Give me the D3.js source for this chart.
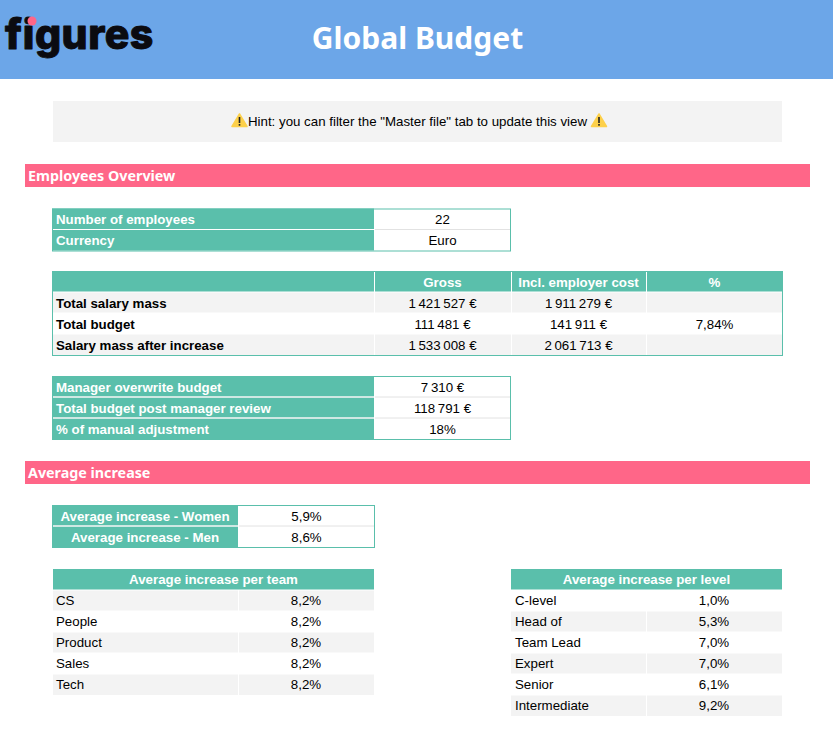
<!DOCTYPE html>
<html>
<head>
<meta charset="utf-8">
<script src="https://cdn.jsdelivr.net/npm/d3@7"></script>
<style>
    html, body { margin: 0; padding: 0; background: #fff; overflow: hidden; }
    svg { display: block; }
    text { font-family: "Liberation Sans", Arial, sans-serif; font-size: 13.3px; fill: #000; }
    .head { font-weight: bold; fill: #fff; }
    .bold { font-weight: bold; }
    .section { font-family: "Noto Sans", sans-serif; font-weight: 700; font-size: 14.3px; fill: #fff; }
</style>
</head>
<body>
<svg id="chart" width="833" height="755"></svg>
<script>
var pageTitle = "Global Budget";
var hintText = "Hint: you can filter the \"Master file\" tab to update this view";
var sectionTitles = ["Employees Overview", "Average increase"];

var overviewLabels = ["Number of employees", "Currency"];
var overviewValues = ["22", "Euro"];

var budgetColumns = ["", "Gross", "Incl. employer cost", "%"];
var budgetLabels = ["Total salary mass", "Total budget", "Salary mass after increase"];
var budgetGross = ["1\u2009421\u2009527 €", "111\u2009481 €", "1\u2009533\u2009008 €"];
var budgetEmployer = ["1\u2009911\u2009279 €", "141\u2009911 €", "2\u2009061\u2009713 €"];
var budgetPercent = ["", "7,84%", ""];

var managerLabels = ["Manager overwrite budget", "Total budget post manager review", "% of manual adjustment"];
var managerValues = ["7\u2009310 €", "118\u2009791 €", "18%"];

var genderLabels = ["Average increase - Women", "Average increase - Men"];
var genderValues = ["5,9%", "8,6%"];

var teamLabels = ["CS", "People", "Product", "Sales", "Tech"];
var teamValues = ["8,2%", "8,2%", "8,2%", "8,2%", "8,2%"];

var levelLabels = ["C-level", "Head of", "Team Lead", "Expert", "Senior", "Intermediate"];
var levelValues = ["1,0%", "5,3%", "7,0%", "7,0%", "6,1%", "9,2%"];

var teal = "#5abfab";
var pink = "#ff6688";
var grey = "#f3f3f3";
var rowHeight = 21;

var svg = d3.select("#chart");

// page furniture
svg.append("rect").attr("width", 833).attr("height", 79).attr("fill", "#6ca6e8");
svg.append("text").attr("x", 417.5).attr("y", 49).attr("text-anchor", "middle")
    .style("font-family", "'Noto Sans', sans-serif").style("font-weight", 700).style("font-size", "30px")
    .style("fill", "#fff").text(pageTitle);

// logo
svg.append("text").attr("x", 5).attr("y", 49)
    .style("font-family", "Inter, sans-serif").style("font-weight", 800).style("font-size", "41px")
    .style("font-variant-ligatures", "none").style("letter-spacing", "0.5px")
    .style("fill", "#0b0b10").style("stroke", "#0b0b10").style("stroke-width", 1).style("stroke-linejoin", "round")
    .text("figures");
svg.append("circle").attr("cx", 32).attr("cy", 21).attr("r", 4.5).attr("fill", pink);

// hint banner
svg.append("rect").attr("x", 53).attr("y", 101).attr("width", 729).attr("height", 41).attr("fill", grey);
svg.append("text").attr("x", 417.5).attr("y", 126).attr("text-anchor", "middle").text(hintText);
[239.5, 599].forEach(function(cx) {
    svg.append("path").attr("d", `M${cx},114 L${cx + 7.5},126.5 L${cx - 7.5},126.5 Z`)
        .attr("fill", "#fdd04a").attr("stroke", "#fdd04a").attr("stroke-width", 1.5).attr("stroke-linejoin", "round");
    svg.append("rect").attr("x", cx - 0.8).attr("y", 117).attr("width", 1.6).attr("height", 6).attr("fill", "#222");
    svg.append("rect").attr("x", cx - 0.8).attr("y", 124).attr("width", 1.6).attr("height", 1.7).attr("fill", "#222");
});

// section bars
[164, 461].forEach(function(top, i) {
    svg.append("rect").attr("x", 25).attr("y", top).attr("width", 785).attr("height", 23).attr("fill", pink);
    svg.append("text").attr("class", "section").attr("x", 28).attr("y", top + 17).text(sectionTitles[i]);
});

// draws one block: edges are the column boundaries, columns[0] holds the row labels
function drawTable(opt) {
    var nRows = opt.columns[0].length + (opt.header ? 1 : 0);
    var y = d3.scaleBand().domain(d3.range(nRows)).range([opt.top, opt.top + nRows * rowHeight]);
    var x0 = opt.edges[0];
    var x1 = opt.edges[opt.edges.length - 1];
    var baseline = opt.baseline || 15.5;
    var pad = opt.pad || 4;
    var g = svg.append("g");

    function cell(col, row, value, fill, cls, anchor) {
        var left = opt.edges[col], right = opt.edges[col + 1];
        g.append("rect").attr("x", left).attr("y", y(row)).attr("width", right - left).attr("height", y.bandwidth()).attr("fill", fill);
        if (!value) return;
        var tx = anchor == "start" ? left + pad : (left + right) / 2;
        g.append("text").attr("class", cls).attr("x", tx).attr("y", y(row) + baseline).attr("text-anchor", anchor).text(value);
    }

    var offset = 0;
    var single = opt.header && opt.header.length == 1;
    if (opt.header) {
        offset = 1;
        if (!single) opt.header.forEach(function(h, c) { cell(c, 0, h, teal, "head", "middle"); });
    }

    opt.columns[0].forEach(function(label, r) {
        var row = r + offset;
        var stripe = opt.stripe ? opt.stripe(r) : "#fff";
        cell(0, row, label, opt.labelFill || stripe, opt.labelClass, opt.labelAnchor || "start");
        opt.columns.slice(1).forEach(function(col, c) {
            cell(c + 1, row, col[r], stripe, "", "middle");
        });
    });

    // white or grey rules between cells
    d3.range(1, nRows).forEach(function(i) {
        g.append("line").attr("x1", x0).attr("x2", x1).attr("y1", y(i)).attr("y2", y(i))
            .attr("stroke", opt.rowRule || "#fff").attr("stroke-width", 1);
        if (opt.labelFill) {
            g.append("line").attr("x1", x0).attr("x2", opt.edges[1]).attr("y1", y(i)).attr("y2", y(i))
                .attr("stroke", "#fff").attr("stroke-width", 1);
        }
    });
    opt.edges.slice(1, -1).forEach(function(e) {
        g.append("line").attr("x1", e + 0.5).attr("x2", e + 0.5).attr("y1", opt.top).attr("y2", opt.top + nRows * rowHeight)
            .attr("stroke", "#fff").attr("stroke-width", 1);
    });
    // a spanning header goes on top so no column rule cuts through it
    if (single) {
        g.append("rect").attr("x", x0).attr("y", y(0)).attr("width", x1 - x0).attr("height", rowHeight - 0.5).attr("fill", teal);
        g.append("text").attr("class", "head").attr("x", (x0 + x1) / 2).attr("y", y(0) + baseline).attr("text-anchor", "middle").text(opt.header[0]);
    }
    if (opt.border) {
        g.append("rect").attr("x", x0 + 0.5).attr("y", opt.top + 0.5).attr("width", x1 - x0 - 1).attr("height", nRows * rowHeight)
            .attr("fill", "none").attr("stroke", teal).attr("stroke-width", 1);
    }
}

var stripeOdd = function(r) { return r % 2 == 0 ? grey : "#fff"; };
var stripeEven = function(r) { return r % 2 == 1 ? grey : "#fff"; };

drawTable({ edges: [52, 374, 511], top: 208.5, columns: [overviewLabels, overviewValues],
    labelFill: teal, labelClass: "head", rowRule: "#e2e2e2", border: true });

drawTable({ edges: [52, 374, 511, 646, 783], top: 271, header: budgetColumns,
    columns: [budgetLabels, budgetGross, budgetEmployer, budgetPercent],
    stripe: stripeOdd, labelClass: "bold", border: true });

drawTable({ edges: [52, 374, 511], top: 376, columns: [managerLabels, managerValues],
    labelFill: teal, labelClass: "head", rowRule: "#e2e2e2", border: true });

drawTable({ edges: [52, 238, 375], top: 505, columns: [genderLabels, genderValues],
    labelFill: teal, labelClass: "head", labelAnchor: "middle", rowRule: "#e2e2e2", border: true });

drawTable({ edges: [53, 238, 374], top: 569, header: ["Average increase per team"],
    columns: [teamLabels, teamValues], stripe: stripeOdd, baseline: 14.5, pad: 3 });

drawTable({ edges: [511, 646, 782], top: 569, header: ["Average increase per level"],
    columns: [levelLabels, levelValues], stripe: stripeEven, baseline: 14.5, pad: 4 });
</script>
</body>
</html>
